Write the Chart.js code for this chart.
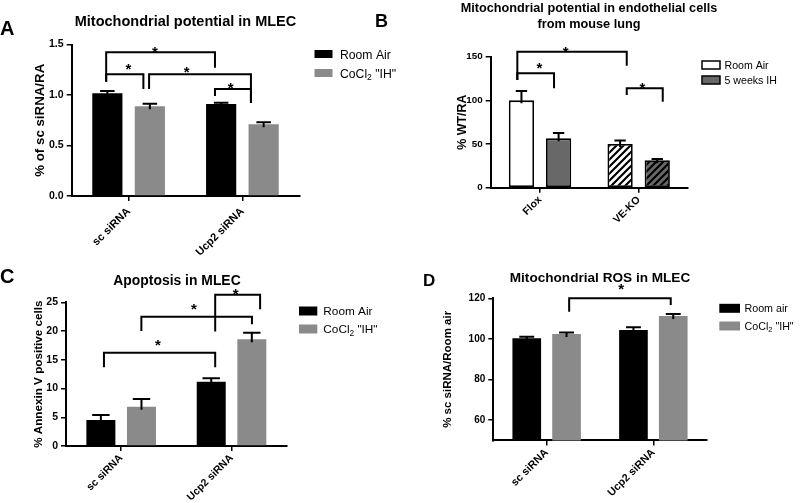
<!DOCTYPE html>
<html>
<head>
<meta charset="utf-8">
<script src="https://cdn.jsdelivr.net/npm/chart.js"></script>
<style>
  html, body { margin: 0; padding: 0; background: #fff; }
  body { position: relative; width: 800px; height: 503px; overflow: hidden; }
  canvas { position: absolute; }
</style>
</head>
<body>
<canvas id="chartA" width="400" height="262" style="left:0;top:0"></canvas>
<canvas id="chartB" width="430" height="250" style="left:370px;top:0"></canvas>
<canvas id="chartC" width="400" height="253" style="left:0;top:250px"></canvas>
<canvas id="chartD" width="400" height="253" style="left:400px;top:250px"></canvas>
<script>
const FONT = '"Liberation Sans", Arial, sans-serif';
const BLACK = "#000000";
const GREY = "#8a8a8a";
const DARK = "#686868";
const WHITE = "#ffffff";

// A - mitochondrial potential in MLEC
const catsA = ["sc siRNA", "Ucp2 siRNA"];
const roomAirA = [1.017, 0.911];
const roomAirSemA = [0.023, 0.013];
const cocl2A = [0.888, 0.71];
const cocl2SemA = [0.026, 0.02];
const ticksA = [0, 0.5, 1.0, 1.5];
// significance brackets: [leg1 x, leg2 x, bar y, leg1 end, leg2 end, star x, star y], x in category units
const bracketsA = [
  [-0.197, 0.759, 1.423, 1.13, 1.27, 0.232, 1.445],
  [-0.197, 0.13, 1.205, 1.13, 1.06, -0.002, 1.28],
  [0.18, 1.075, 1.205, 1.06, 0.92, 0.51, 1.25],
  [0.759, 1.075, 1.06, 0.99, 0.92, 0.896, 1.09],
];

// B - mitochondrial potential, mouse lung endothelial cells
const catsB = ["Flox", "VE-KO"];
const roomAirB = [100, 50];
const roomAirSemB = [10.8, 4];
const ihB = [56.5, 31.5];
const ihSemB = [6.2, 1.5];
const ticksB = [0, 50, 100, 150];
const bracketsB = [
  [-0.23, 0.879, 155.7, 123.3, 139.7, 0.26, 157.7],
  [-0.23, 0.142, 131, 123.3, 113.8, -0.007, 139.6],
  [0.879, 1.244, 113.8, 106.1, 98.5, 1.037, 116.7],
];

// C - apoptosis in MLEC
const catsC = ["sc siRNA", "Ucp2 siRNA"];
const roomAirC = [4.52, 11.19];
const roomAirSemC = [0.88, 0.59];
const cocl2C = [6.84, 18.55];
const cocl2SemC = [1.34, 1.15];
const ticksC = [0, 5, 10, 15, 20, 25];
const bracketsC = [
  [-0.156, 0.852, 16.23, 13.7, 13.7, 0.334, 17.87],
  [0.183, 1.185, 22.5, 20.0, 21.2, 0.66, 24.24],
  [0.852, 1.259, 26.3, 19.9, 23.8, 1.037, 26.85],
];

// D - mitochondrial ROS in MLEC
const catsD = ["sc siRNA", "Ucp2 siRNA"];
const roomAirD = [100.3, 104.4];
const roomAirSemD = [0.8, 1.3];
const cocl2D = [102.4, 111.3];
const cocl2SemD = [0.8, 1.0];
const ticksD = [60, 80, 100, 120];
const bracketsD = [
  [0.211, 1.163, 120, 113.4, 116.7, 0.698, 125.4],
];

function hatch(bg) {
  const c = document.createElement("canvas");
  c.width = 7;
  c.height = 7;
  const g = c.getContext("2d");
  g.fillStyle = bg;
  g.fillRect(0, 0, 7, 7);
  g.strokeStyle = BLACK;
  g.lineWidth = 2.2;
  g.beginPath();
  g.moveTo(-1, 8); g.lineTo(8, -1);
  g.moveTo(-1, 1); g.lineTo(1, -1);
  g.moveTo(6, 8); g.lineTo(8, 6);
  g.stroke();
  return g.createPattern(c, "repeat");
}

// text whose capitals are centred vertically on y
function capText(ctx, str, x, y, size, bold, align) {
  ctx.font = `${bold ? "bold " : ""}${size}px ${FONT}`;
  ctx.textAlign = align || "left";
  ctx.textBaseline = "alphabetic";
  const cap = ctx.measureText("H").actualBoundingBoxAscent;
  ctx.fillText(str, x, y + cap / 2);
  return ctx.measureText(str).width;
}

function star(ctx, x, y) {
  ctx.font = `bold 15px ${FONT}`;
  ctx.textAlign = "center";
  ctx.textBaseline = "alphabetic";
  const m = ctx.measureText("*");
  ctx.fillText("*", x, y + (m.actualBoundingBoxAscent - m.actualBoundingBoxDescent) / 2);
}

function makePanel(id, p) {
  const plugin = {
    id: "panel" + id,
    afterDatasetsDraw(chart) {
      const ctx = chart.ctx;
      const ys = chart.scales.y;
      ctx.save();
      ctx.strokeStyle = BLACK;
      ctx.lineWidth = 2;
      p.sems.forEach((sem, di) => {
        chart.getDatasetMeta(di).data.forEach((bar, i) => {
          const top = ys.getPixelForValue(chart.data.datasets[di].data[i] + sem[i]);
          const half = (bar.width * p.cap) / 2;
          ctx.beginPath();
          ctx.moveTo(bar.x, bar.y + 3);
          ctx.lineTo(bar.x, top);
          ctx.moveTo(bar.x - half, top);
          ctx.lineTo(bar.x + half, top);
          ctx.stroke();
        });
      });
      ctx.restore();
    },
    afterDraw(chart) {
      const ctx = chart.ctx;
      const xs = chart.scales.x;
      const ys = chart.scales.y;
      const c0 = xs.getPixelForValue(0);
      const c1 = xs.getPixelForValue(1);
      const px = (v) => c0 + v * (c1 - c0);
      ctx.save();
      ctx.fillStyle = BLACK;
      ctx.strokeStyle = BLACK;
      ctx.lineWidth = 2;
      ctx.lineJoin = "miter";
      p.brackets.forEach(([a, b, top, ea, eb, sx, sy]) => {
        ctx.beginPath();
        ctx.moveTo(px(a), ys.getPixelForValue(ea));
        ctx.lineTo(px(a), ys.getPixelForValue(top));
        ctx.lineTo(px(b), ys.getPixelForValue(top));
        ctx.lineTo(px(b), ys.getPixelForValue(eb));
        ctx.stroke();
        star(ctx, px(sx), ys.getPixelForValue(sy));
      });

      // panel letter and title
      capText(ctx, p.letter[0], p.letter[1], p.letter[2], p.letter[3], true);
      p.title.lines.forEach((line, i) => {
        capText(ctx, line, p.title.x, p.title.y + i * p.title.gap, p.title.size, true, "center");
      });

      // y axis title
      ctx.save();
      ctx.translate(p.yTitle.x, (chart.chartArea.top + chart.chartArea.bottom) / 2);
      ctx.rotate(-Math.PI / 2);
      capText(ctx, p.yTitle.text, 0, 0, p.yTitle.size, true, "center");
      ctx.restore();

      // legend
      const lg = p.legend;
      chart.data.datasets.forEach((ds, i) => {
        const cy = lg.y + i * lg.gap;
        ctx.fillStyle = lg.fills[i];
        ctx.fillRect(lg.x, cy - lg.h / 2, lg.w, lg.h);
        if (lg.border) {
          ctx.lineWidth = 1.5;
          ctx.strokeRect(lg.x, cy - lg.h / 2, lg.w, lg.h);
        }
        ctx.fillStyle = BLACK;
        let tx = lg.x + lg.w + lg.pad;
        lg.labels[i].forEach((part, k) => {
          if (k % 2 === 1) {
            tx += capText(ctx, part, tx, cy + lg.size * 0.3, lg.size * 0.7, false);
          } else {
            tx += capText(ctx, part, tx, cy, lg.size, false);
          }
        });
      });
      ctx.restore();
    },
  };

  return new Chart(document.getElementById(id), {
    type: "bar",
    data: {
      labels: p.cats,
      datasets: p.sets.map((s) => ({
        label: s.label,
        data: s.data,
        backgroundColor: s.fill,
        borderColor: BLACK,
        borderWidth: s.border || 0,
        borderSkipped: false,
        categoryPercentage: p.catPct,
        barPercentage: p.barPct,
      })),
    },
    options: {
      responsive: false,
      animation: false,
      devicePixelRatio: 1,
      layout: { padding: p.pad },
      plugins: { legend: { display: false }, tooltip: { enabled: false }, title: { display: false } },
      scales: {
        x: {
          grid: { display: true, drawOnChartArea: false, offset: false, tickLength: 5, color: BLACK, lineWidth: 1.5 },
          border: { display: true, color: BLACK, width: 2 },
          ticks: {
            color: BLACK,
            font: { family: FONT, weight: "bold", size: p.xFont },
            minRotation: 45,
            maxRotation: 45,
            autoSkip: false,
            padding: p.xPad,
          },
          afterFit: (s) => { s.height = p.xHeight; },
        },
        y: {
          min: p.yMin,
          max: p.yMax,
          afterBuildTicks: (s) => { s.ticks = p.ticks.map((v) => ({ value: v })); },
          grid: { display: true, drawOnChartArea: false, tickLength: 5, color: BLACK, lineWidth: 1.5 },
          border: { display: true, color: BLACK, width: 2 },
          ticks: {
            color: BLACK,
            font: { family: FONT, weight: "bold", size: p.yFont },
            padding: 3,
            callback: (v) => (p.digits ? Number(v).toFixed(p.digits) : String(v)),
          },
          afterFit: (s) => { s.width = 40; },
        },
      },
    },
    plugins: [plugin],
  });
}

const legendCo = [["Room Air"], ["CoCl", "2", ' "IH"']];

makePanel("chartA", {
  cats: catsA,
  sets: [
    { label: "Room Air", data: roomAirA, fill: BLACK },
    { label: 'CoCl2 "IH"', data: cocl2A, fill: GREY },
  ],
  sems: [roomAirSemA, cocl2SemA],
  brackets: bracketsA,
  ticks: ticksA, yMin: 0, yMax: 1.5, digits: 1,
  pad: { left: 31.7, right: 100.7, top: 44.5, bottom: 0 }, xHeight: 66, xPad: 4,
  catPct: 0.747, barPct: 0.71, cap: 0.48,
  xFont: 11, yFont: 10.6,
  letter: ["A", 0, 28, 20],
  title: { lines: ["Mitochondrial potential in MLEC"], x: 185.5, y: 20.5, size: 14.5, gap: 0 },
  yTitle: { text: "% of sc siRNA/RA", x: 39, size: 13.3 },
  legend: { x: 314.5, y: 54, gap: 19, w: 18, h: 8, pad: 7.5, size: 12.2, fills: [BLACK, GREY], labels: legendCo },
});

makePanel("chartB", {
  cats: catsB,
  sets: [
    { label: "Room Air", data: roomAirB, fill: [WHITE, hatch(WHITE)], border: 1.8 },
    { label: "5 weeks IH", data: ihB, fill: [DARK, hatch(DARK)], border: 1.8 },
  ],
  sems: [roomAirSemB, ihSemB],
  brackets: bracketsB,
  ticks: ticksB, yMin: 0, yMax: 150, digits: 0,
  pad: { left: 80.7, right: 112, top: 56.7, bottom: 0 }, xHeight: 62.3, xPad: 1,
  catPct: 0.753, barPct: 0.68, cap: 0.45,
  xFont: 10.5, yFont: 9.8,
  letter: ["B", 5, 20, 18],
  title: { lines: ["Mitochondrial potential in endothelial cells", "from mouse lung"], x: 219, y: 7.9, size: 12.7, gap: 15.2 },
  yTitle: { text: "% WT/RA", x: 91.7, size: 12.4 },
  legend: { x: 332, y: 65, gap: 15, w: 18, h: 8, pad: 4.5, size: 10.6, border: true, fills: [WHITE, DARK], labels: [["Room Air"], ["5 weeks IH"]] },
});

makePanel("chartC", {
  cats: catsC,
  sets: [
    { label: "Room Air", data: roomAirC, fill: BLACK },
    { label: 'CoCl2 "IH"', data: cocl2C, fill: GREY },
  ],
  sems: [roomAirSemC, cocl2SemC],
  brackets: bracketsC,
  ticks: ticksC, yMin: 0, yMax: 25, digits: 0,
  pad: { left: 26, right: 113.3, top: 52.3, bottom: 0 }, xHeight: 57, xPad: 1,
  catPct: 0.736, barPct: 0.714, cap: 0.6,
  xFont: 10.5, yFont: 10.5,
  letter: ["C", 0, 25.5, 20],
  title: { lines: ["Apoptosis in MLEC"], x: 177, y: 30, size: 13.9, gap: 0 },
  yTitle: { text: "% Annexin V positive cells", x: 38.3, size: 11.7 },
  legend: { x: 299, y: 61, gap: 18, w: 18.3, h: 9, pad: 6, size: 11.8, fills: [BLACK, GREY], labels: legendCo },
});

makePanel("chartD", {
  cats: catsD,
  sets: [
    { label: "Room air", data: roomAirD, fill: BLACK },
    { label: 'CoCl2 "IH"', data: cocl2D, fill: GREY },
  ],
  sems: [roomAirSemD, cocl2SemD],
  brackets: bracketsD,
  ticks: ticksD, yMin: 50, yMax: 120, digits: 0,
  pad: { left: 53.3, right: 93.3, top: 48.3, bottom: 0 }, xHeight: 62.6, xPad: 1,
  catPct: 0.746, barPct: 0.72, cap: 0.52,
  xFont: 10.8, yFont: 10,
  letter: ["D", 23, 30, 17],
  title: { lines: ["Mitochondrial ROS in MLEC"], x: 200, y: 27.5, size: 13.6, gap: 0 },
  yTitle: { text: "% sc siRNA/Room air", x: 46.7, size: 11.5 },
  legend: { x: 319.3, y: 58.3, gap: 17.7, w: 20.7, h: 9, pad: 4.5, size: 10.7, fills: [BLACK, GREY], labels: [["Room air"], ["CoCl", "2", ' "IH"']] },
});
</script>
</body>
</html>
